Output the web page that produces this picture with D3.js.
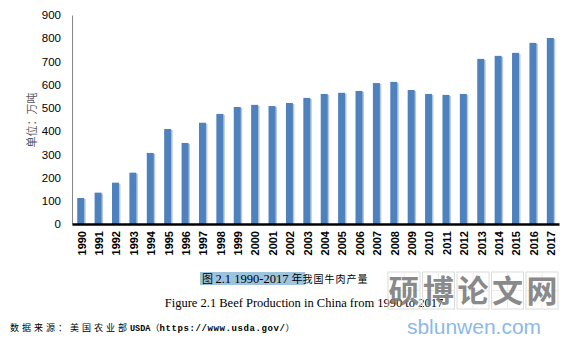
<!DOCTYPE html>
<html>
<head>
<meta charset="utf-8">
<script src="https://cdn.jsdelivr.net/npm/d3@7"></script>
<style>
  body { margin: 0; background: #fff; }
  svg { display: block; }
</style>
</head>
<body>
<div id="chart"></div>
<script>
// beef production, 10k tonnes
const years = ['1990','1991','1992','1993','1994','1995','1996','1997','1998','1999',
  '2000','2001','2002','2003','2004','2005','2006','2007','2008','2009',
  '2010','2011','2012','2013','2014','2015','2016','2017'];
const production = [112, 135, 178, 221, 306, 409, 349, 436, 474, 504,
  513, 508, 521, 543, 560, 565, 573, 607, 612, 577,
  560, 556, 560, 711, 724, 737, 780, 801];
const yTicks = [0, 100, 200, 300, 400, 500, 600, 700, 800, 900];
const watermarkChars = ['硕', '博', '论', '文', '网'];

const W = 577, H = 343;
const margin = { top: 15, left: 72, right: 18, bottom: 119 };
const width = W - margin.left - margin.right;
const height = H - margin.top - margin.bottom;

const svg = d3.select('#chart').append('svg')
  .attr('width', W)
  .attr('height', H);

const chart = svg.append('g')
  .attr('transform', `translate(${margin.left}, ${margin.top})`);

const xScale = d3.scaleBand().domain(years).range([0, width]).paddingInner(0.6).paddingOuter(0.3);
const yScale = d3.scaleLinear().domain([0, 900]).range([height, 0]);

// y axis
const yAxis = chart.append('g')
  .call(d3.axisLeft(yScale).tickValues(yTicks).tickSize(0).tickPadding(11));
yAxis.select('.domain').attr('stroke', '#868686');
yAxis.selectAll('text')
  .attr('font-family', 'Arial, "Liberation Sans", sans-serif')
  .attr('font-size', 11.5)
  .attr('fill', '#000');

// bars with a faint shadow on the right
chart.append('g').selectAll('rect')
  .data(production)
  .join('rect')
  .attr('x', (d, i) => xScale(years[i]) + 1.5)
  .attr('y', d => yScale(d) + 1)
  .attr('width', xScale.bandwidth())
  .attr('height', d => height - yScale(d) - 1)
  .attr('fill', '#b4c8e4');

chart.append('g').selectAll('rect')
  .data(production)
  .join('rect')
  .attr('x', (d, i) => xScale(years[i]))
  .attr('y', d => yScale(d))
  .attr('width', xScale.bandwidth())
  .attr('height', d => height - yScale(d))
  .attr('fill', '#4f81bd');

// x axis, labels rotated to read bottom-to-top
const xAxis = chart.append('g')
  .attr('transform', `translate(0, ${height})`)
  .call(d3.axisBottom(xScale).tickSize(0));
xAxis.select('.domain').attr('stroke', '#000').attr('stroke-width', 2.5);
xAxis.selectAll('.tick text').remove();
xAxis.selectAll('.tick').append('text')
  .attr('transform', 'translate(1, 7) rotate(-90)')
  .attr('text-anchor', 'end')
  .attr('dy', '0.35em')
  .attr('font-family', 'Arial, "Liberation Sans", sans-serif')
  .attr('font-size', 11)
  .attr('font-weight', 'bold')
  .attr('fill', '#000')
  .text(d => d);

// y axis title
svg.append('text')
  .attr('transform', 'translate(36, 120) rotate(-90)')
  .attr('text-anchor', 'middle')
  .attr('font-family', '"Noto Sans CJK SC", sans-serif')
  .attr('font-size', 11)
  .attr('fill', '#595959')
  .text('单位：万吨');

// captions
svg.append('rect')
  .attr('x', 200).attr('y', 272)
  .attr('width', 105).attr('height', 13)
  .attr('fill', '#9ec3dc');

const cap = svg.append('text')
  .attr('x', 202).attr('y', 282.5)
  .attr('fill', '#000');
cap.append('tspan')
  .attr('font-family', '"Noto Sans CJK SC", sans-serif')
  .attr('font-size', 11)
  .text('图 ');
cap.append('tspan')
  .attr('font-family', '"Liberation Serif", serif')
  .attr('font-size', 12.5)
  .text('2.1 1990-2017 ');
cap.append('tspan')
  .attr('font-family', '"Noto Sans CJK SC", sans-serif')
  .attr('font-size', 11)
  .text('年');
cap.append('tspan')
  .attr('font-family', '"Noto Sans CJK SC", sans-serif')
  .attr('font-size', 10)
  .attr('letter-spacing', 1)
  .text('我国牛肉产量');

svg.append('text')
  .attr('x', 304).attr('y', 307)
  .attr('text-anchor', 'middle')
  .attr('font-family', '"Liberation Serif", serif')
  .attr('font-size', 12.5)
  .attr('fill', '#000')
  .text('Figure 2.1 Beef Production in China from 1990 to 2017');

const note = svg.append('text')
  .attr('x', 10).attr('y', 331)
  .attr('font-size', 9)
  .attr('fill', '#000');
note.append('tspan')
  .attr('font-family', '"Noto Sans CJK SC", sans-serif')
  .attr('letter-spacing', 3)
  .text('数据来源：美国农业部');
note.append('tspan')
  .attr('font-family', '"Liberation Mono", monospace')
  .attr('font-weight', 'bold')
  .attr('font-size', 8.5)
  .text('USDA');
note.append('tspan')
  .attr('font-family', '"Noto Sans CJK SC", sans-serif')
  .text('（');
note.append('tspan')
  .attr('font-family', '"Liberation Mono", monospace')
  .attr('font-weight', 'bold')
  .attr('letter-spacing', 0.6)
  .text('https://www.usda.gov/');
note.append('tspan')
  .attr('font-family', '"Noto Sans CJK SC", sans-serif')
  .text('）');

// watermark
const wm = svg.append('g').attr('transform', 'translate(388, 272)');
const box = 32, gap = 2.5;
const cells = wm.selectAll('g')
  .data(watermarkChars)
  .join('g')
  .attr('transform', (d, i) => `translate(${i * (box + gap)}, 0)`);
cells.append('rect')
  .attr('width', box).attr('height', 37)
  .attr('fill', 'none').attr('stroke', '#dcdcdc');
cells.append('line')
  .attr('x1', box / 2).attr('x2', box / 2).attr('y1', 0).attr('y2', 37)
  .attr('stroke', '#ececec');
cells.append('line')
  .attr('x1', 0).attr('x2', box).attr('y1', 18.5).attr('y2', 18.5)
  .attr('stroke', '#ececec');
cells.append('text')
  .attr('x', box / 2).attr('y', 30)
  .attr('text-anchor', 'middle')
  .attr('font-family', '"Noto Sans CJK SC", sans-serif')
  .attr('font-weight', 'bold')
  .attr('font-size', 31)
  .attr('fill', '#7a7a7a')
  .attr('fill-opacity', 0.9)
  .text(d => d);

svg.append('text')
  .attr('x', 474).attr('y', 334)
  .attr('text-anchor', 'middle')
  .attr('font-family', 'Arial, "Liberation Sans", sans-serif')
  .attr('font-size', 21)
  .attr('fill', '#8cb9e9')
  .text('sblunwen.com');
</script>
</body>
</html>
